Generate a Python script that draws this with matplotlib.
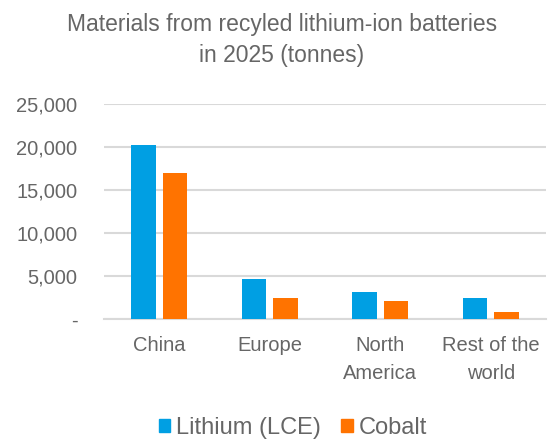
import matplotlib
matplotlib.use("Agg")
import matplotlib.pyplot as plt
from matplotlib.patches import Patch
import numpy as np

plt.rcParams['font.family'] = ['Liberation Sans', 'DejaVu Sans']

categories = ["China", "Europe", "North\nAmerica", "Rest of the\nworld"]
lithium = [20200, 4700, 3200, 2500]
cobalt = [17000, 2500, 2100, 900]
yticks = [0, 5000, 10000, 15000, 20000, 25000]
ytick_labels = ["-", "5,000", "10,000", "15,000", "20,000", "25,000"]

blue = "#009FE3"
orange = "#FF7300"
gray_text = "#666666"
grid_col = "#D9D9D9"

fig = plt.figure(figsize=(5.49, 4.42), dpi=100)
ax = fig.add_axes([104/549, 1-319.3/442, 442/549, (319.3-104)/442])

x = np.arange(len(categories))
w = 0.22
off = 0.142
ax.bar(x - off, lithium, width=w, color=blue, zorder=3)
ax.bar(x + off, cobalt, width=w, color=orange, zorder=3)

ax.set_xlim(-0.5, len(categories) - 0.5)
ax.set_ylim(0, 25000)
ax.set_yticks(yticks)
ax.set_yticklabels(ytick_labels)
ax.set_xticks(x)
ax.set_xticklabels(categories, linespacing=1.6)
ax.tick_params(axis='y', length=0, pad=19, labelsize=14.5, labelcolor=gray_text)
ax.tick_params(axis='x', length=0, pad=12, labelsize=14.5, labelcolor=gray_text)
ax.grid(axis='y', color=grid_col, linewidth=1.5, zorder=0)
for s in ['top', 'right', 'left']:
    ax.spines[s].set_visible(False)
ax.spines['bottom'].set_color(grid_col)
ax.spines['bottom'].set_linewidth(1.5)

fig.text(282/549, 1-40/442, "Materials from recyled lithium-ion batteries\nin 2025 (tonnes)",
         ha='center', va='center', fontsize=16.5, color=gray_text, linespacing=1.4)

handles = [Patch(color=blue, label="Lithium (LCE)"), Patch(color=orange, label="Cobalt")]
fig.legend(handles=handles, loc='center', bbox_to_anchor=(293/549, 1-428/442), ncol=2,
           frameon=False, fontsize=17, handlelength=0.5, handleheight=0.5,
           handletextpad=0.25, columnspacing=0.85, labelcolor=gray_text,
           borderpad=0.2)

fig.savefig("out.png", dpi=100)
